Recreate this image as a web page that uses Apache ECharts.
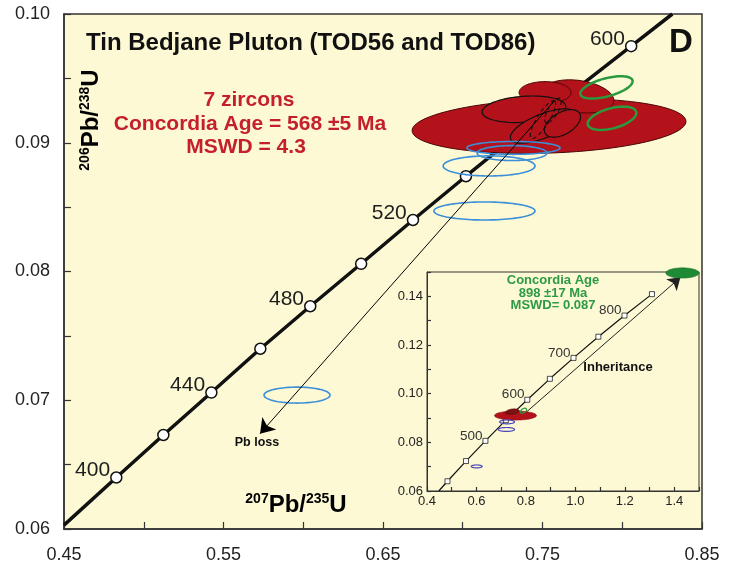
<!DOCTYPE html>
<html>
<head>
<meta charset="utf-8">
<script src="https://cdn.jsdelivr.net/npm/echarts@6/dist/echarts.min.js"></script>
<style>
  html, body { margin: 0; padding: 0; background: #ffffff; }
  #chart { width: 731px; height: 567px; }
</style>
</head>
<body>
<div id="chart"></div>
<script>
// ---- Main diagram: concordia reference points (207Pb/235U, 206Pb/238U), ages in Ma ----
const concAges = [400, 420, 440, 460, 480, 500, 520, 540, 560, 580, 600];
const concX = [0.4828, 0.5123, 0.5424, 0.5731, 0.6044, 0.6363, 0.6688, 0.7020, 0.7359, 0.7704, 0.8056];
const concY = [0.0640, 0.0673, 0.0706, 0.0740, 0.0773, 0.0806, 0.0840, 0.0874, 0.0908, 0.0941, 0.0975];
const concLabelled = [400, 440, 480, 520, 600];
const concStart = [0.4500, 0.0603];
const concEnd = [0.8314, 0.1000];

// Error ellipses: [x centre, y centre, x semi-axis, y semi-axis, tilt in degrees]
const redZircons = [
  [0.7541, 0.0913, 0.0859, 0.00210, 2],
  [0.7723, 0.0936, 0.0226, 0.00124, -8],
  [0.7516, 0.0939, 0.0163, 0.00085, 0]
];
const redZirconsOutlined = [
  [0.7384, 0.0926, 0.0263, 0.00101, 4],
  [0.7503, 0.0913, 0.0219, 0.00093, 22],
  [0.7625, 0.0915, 0.0125, 0.00085, 30]
];
const dashedZircons = [
  [0.7503, 0.0918, 0.0138, 0.00047, 58],
  [0.7566, 0.0925, 0.0088, 0.00039, 60]
];
const blueZircons = [
  [0.7318, 0.0896, 0.0292, 0.00050, 0],
  [0.7309, 0.0892, 0.0219, 0.00058, 0],
  [0.7165, 0.0882, 0.0288, 0.00078, 0],
  [0.7136, 0.0847, 0.0317, 0.00070, 0],
  [0.5961, 0.0704, 0.0207, 0.00062, 0]
];
const greenZircons = [
  [0.7901, 0.0943, 0.0169, 0.00070, 15],
  [0.7936, 0.0919, 0.0157, 0.00078, 15]
];
const pbLossArrow = [[0.7578, 0.0933], [0.5729, 0.0674]];

// ---- Inset: wider concordia with the inherited population ----
const insetAges = [400, 450, 500, 550, 600, 650, 700, 750, 800, 850];
const insetX = [0.4828, 0.5577, 0.6363, 0.7189, 0.8056, 0.8968, 0.9925, 1.0930, 1.1987, 1.3097];
const insetY = [0.0640, 0.0723, 0.0806, 0.0891, 0.0975, 0.1061, 0.1147, 0.1234, 0.1321, 0.1409];
const insetLabelled = [500, 600, 700, 800];
const insetStart = [0.4476, 0.0600];
const insetEnd = [1.3200, 0.1418];
const insetRed = [[0.758, 0.0910, 0.085, 0.00185, 0]];
const insetDarkRed = [[0.745, 0.0926, 0.028, 0.00110, 8]];
const insetBlue = [
  [0.724, 0.0884, 0.030, 0.0008, 0],
  [0.721, 0.0853, 0.033, 0.0008, 0],
  [0.601, 0.0701, 0.022, 0.0006, 0]
];
const insetGreenRing = [[0.790, 0.0930, 0.014, 0.0008, 35]];
const insetGreenFill = [[1.433, 0.1496, 0.067, 0.0021, 0]];
const inheritanceArrow = [[0.78, 0.0905], [1.425, 0.1478]];

const FONT = '"Liberation Sans", Arial, Helvetica, sans-serif';
const CREAM = '#fcf9d4';
const RED = '#b3121a';

// Ellipse drawn as a polygon in pixel space from data-space centre and semi-axes
function ellipseRenderer(style) {
  return function (params, api) {
    const c = api.coord([api.value(0), api.value(1)]);
    const sx = api.size([api.value(2), 0])[0];
    const sy = api.size([0, api.value(3)])[1];
    const th = api.value(4) * Math.PI / 180;
    const cs = Math.cos(th), sn = Math.sin(th);
    const pts = [];
    for (let i = 0; i < 96; i++) {
      const t = i / 96 * Math.PI * 2;
      const ex = sx * Math.cos(t), ey = sy * Math.sin(t);
      pts.push([c[0] + ex * cs - ey * sn, c[1] - (ex * sn + ey * cs)]);
    }
    return { type: 'polygon', shape: { points: pts }, style: Object.assign({}, style) };
  };
}
function ellipseSeries(data, style, axis, z) {
  return {
    type: 'custom', xAxisIndex: axis, yAxisIndex: axis, data: data,
    renderItem: ellipseRenderer(style), z: z, clip: false, silent: true, animation: false
  };
}
function pointsOf(xs, ys, ages) {
  return ages.map((a, i) => [xs[i], ys[i], a]);
}

function valueAxis(grid, min, max, interval, showLabel, fontSize, margin, z, tickLen, lineW) {
  return {
    type: 'value', gridIndex: grid, min: min, max: max, interval: interval, z: z,
    axisLine: { show: true, onZero: false, lineStyle: { color: '#333', width: lineW } },
    axisTick: { show: true, inside: true, length: tickLen, lineStyle: { color: '#333', width: 1.2 } },
    splitLine: { show: false },
    axisLabel: {
      fontSize: fontSize, color: '#222', margin: margin, fontFamily: FONT,
      formatter: function (v) { return showLabel(v) ? showLabel(v) : ''; }
    }
  };
}

const chart = echarts.init(document.getElementById('chart'));

const supRich = function (big, small) {
  return {
    b: { fontSize: big, fontWeight: 'bold', fontFamily: FONT, color: '#111', lineHeight: big + 2 },
    s: { fontSize: small, fontWeight: 'bold', fontFamily: FONT, color: '#111', verticalAlign: 'top', lineHeight: small + 1 }
  };
};

function textEl(x, y, text, font, fill, align, z) {
  return {
    type: 'text', x: x, y: y, z: z || 10, silent: true,
    style: { text: text, font: font, fill: fill, align: align || 'center', verticalAlign: 'middle',
             textAlign: align || 'center', textVerticalAlign: 'middle' }
  };
}

chart.setOption({
  animation: false,
  backgroundColor: '#ffffff',
  grid: [
    { left: 64, top: 14, width: 638, height: 515, show: true, backgroundColor: CREAM,
      borderColor: '#333', borderWidth: 1.5, z: 0 },
    { left: 427, top: 272, width: 272, height: 219, show: true, backgroundColor: CREAM,
      borderColor: '#333', borderWidth: 1, z: 20 }
  ],
  xAxis: [
    valueAxis(0, 0.45, 0.85, 0.05,
      v => (Math.round(v * 100) % 10 === 5 ? v.toFixed(2) : ''), 18, 17, 1, 7, 1.5),
    valueAxis(1, 0.4, 1.5, 0.1,
      v => (Math.round(v * 10) % 2 === 0 ? v.toFixed(1) : ''), 13, 4, 22, 4, 1)
  ],
  yAxis: [
    valueAxis(0, 0.06, 0.10, 0.005,
      v => (Math.round(v * 1000) % 10 === 0 ? v.toFixed(2) : ''), 18, 14, 1, 7, 1.5),
    valueAxis(1, 0.06, 0.15, 0.01,
      v => (Math.round(v * 100) % 2 === 0 ? v.toFixed(2) : ''), 13, 4, 22, 4, 1)
  ],
  series: [
    // main concordia curve and age markers
    {
      type: 'line', xAxisIndex: 0, yAxisIndex: 0, z: 2, silent: true, showSymbol: false,
      data: [concStart].concat(concX.map((x, i) => [x, concY[i]])).concat([concEnd]),
      lineStyle: { color: '#111', width: 3.5 }
    },
    {
      type: 'scatter', xAxisIndex: 0, yAxisIndex: 0, z: 3, silent: true,
      data: pointsOf(concX, concY, concAges),
      symbol: 'circle', symbolSize: 11,
      itemStyle: { color: '#ffffff', borderColor: '#111', borderWidth: 1.5, opacity: 1 },
      label: {
        show: true, position: 'left', distance: 0, offset: [0, -7],
        fontSize: 21, color: '#1e1e1e', fontFamily: FONT,
        formatter: p => (concLabelled.indexOf(p.value[2]) >= 0 ? String(p.value[2]) : '')
      }
    },
    ellipseSeries(redZircons, { fill: RED, stroke: '#4a0707', lineWidth: 1 }, 0, 4),
    ellipseSeries(redZirconsOutlined, { fill: RED, stroke: '#111', lineWidth: 1.2 }, 0, 5),
    ellipseSeries(dashedZircons, { fill: 'none', stroke: '#111', lineWidth: 1.1, lineDash: [4, 3] }, 0, 6),
    ellipseSeries(blueZircons, { fill: 'none', stroke: '#3b8ed8', lineWidth: 1.6 }, 0, 6),
    ellipseSeries(greenZircons, { fill: 'none', stroke: '#2a9a3e', lineWidth: 2.5 }, 0, 6),
    {
      type: 'lines', coordinateSystem: 'cartesian2d', xAxisIndex: 0, yAxisIndex: 0, z: 8,
      silent: true, polyline: false, symbol: ['none', 'arrow'], symbolSize: 14,
      lineStyle: { color: '#000', width: 1, opacity: 1, curveness: 0 },
      data: [{ coords: pbLossArrow }]
    },

    // inset
    {
      type: 'line', xAxisIndex: 1, yAxisIndex: 1, z: 23, silent: true, showSymbol: false,
      data: [insetStart].concat(insetX.map((x, i) => [x, insetY[i]])).concat([insetEnd]),
      lineStyle: { color: '#111', width: 1.2 }
    },
    {
      type: 'lines', coordinateSystem: 'cartesian2d', xAxisIndex: 1, yAxisIndex: 1, z: 23,
      silent: true, polyline: false, symbol: ['none', 'arrow'], symbolSize: 12,
      lineStyle: { color: '#222', width: 1, opacity: 1, curveness: 0 },
      data: [{ coords: inheritanceArrow }]
    },
    {
      type: 'scatter', xAxisIndex: 1, yAxisIndex: 1, z: 24, silent: true,
      data: pointsOf(insetX, insetY, insetAges),
      symbol: 'rect', symbolSize: 5,
      itemStyle: { color: '#ffffff', borderColor: '#222', borderWidth: 0.8, opacity: 1 },
      label: {
        show: true, position: 'left', distance: 0, offset: [0, -5],
        fontSize: 13.5, color: '#333', fontFamily: FONT,
        formatter: p => (insetLabelled.indexOf(p.value[2]) >= 0 ? String(p.value[2]) : '')
      }
    },
    ellipseSeries(insetRed, { fill: RED, stroke: '#8a0c10', lineWidth: 0.6 }, 1, 25),
    ellipseSeries(insetDarkRed, { fill: '#7a1414', stroke: '#5a0a0a', lineWidth: 0.6 }, 1, 26),
    ellipseSeries(insetBlue, { fill: 'none', stroke: '#4a48b8', lineWidth: 1.2 }, 1, 26),
    ellipseSeries(insetGreenRing, { fill: 'none', stroke: '#2a9a3e', lineWidth: 1.2 }, 1, 27),
    ellipseSeries(insetGreenFill, { fill: '#1f8a35', stroke: '#146b26', lineWidth: 0.6 }, 1, 27)
  ],
  graphic: [
    textEl(86, 43, 'Tin Bedjane Pluton (TOD56 and TOD86)', 'bold 24px ' + FONT, '#111', 'left'),
    textEl(681, 43, 'D', 'bold 33px ' + FONT, '#111'),
    textEl(249, 100, '7 zircons', 'bold 21px ' + FONT, '#c41f2b'),
    textEl(250, 124, 'Concordia Age = 568 \u00b15 Ma', 'bold 21px ' + FONT, '#c41f2b'),
    textEl(246, 147, 'MSWD = 4.3', 'bold 21px ' + FONT, '#c41f2b'),
    textEl(257, 443, 'Pb loss', 'bold 12.5px ' + FONT, '#111'),
    {
      type: 'text', x: 91, y: 120, rotation: Math.PI / 2, z: 10, silent: true,
      style: { text: '{s|206}{b|Pb/}{s|238}{b|U}', rich: supRich(24, 14),
               align: 'center', verticalAlign: 'middle', textAlign: 'center', textVerticalAlign: 'middle' }
    },
    {
      type: 'text', x: 296, y: 505, z: 10, silent: true,
      style: { text: '{s|207}{b|Pb/}{s|235}{b|U}', rich: supRich(24, 14),
               align: 'center', verticalAlign: 'middle', textAlign: 'center', textVerticalAlign: 'middle' }
    },
    textEl(553, 280, 'Concordia Age', 'bold 13px ' + FONT, '#2d9a45', 'center', 30),
    textEl(553, 293, '898 \u00b117 Ma', 'bold 13px ' + FONT, '#2d9a45', 'center', 30),
    textEl(553, 305, 'MSWD= 0.087', 'bold 13px ' + FONT, '#2d9a45', 'center', 30),
    textEl(618, 367, 'Inheritance', 'bold 13px ' + FONT, '#111', 'center', 30)
  ]
});
</script>
</body>
</html>
